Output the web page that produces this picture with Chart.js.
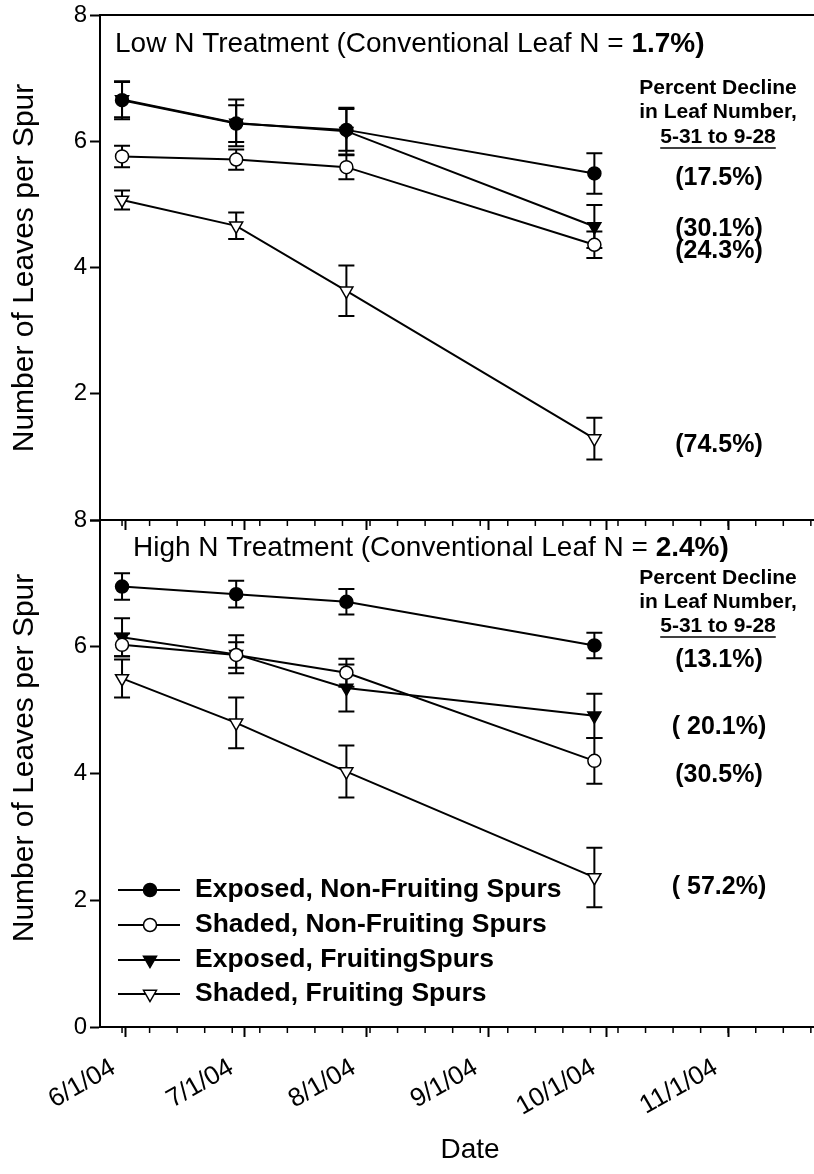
<!DOCTYPE html>
<html lang="en">
<head>
  <meta charset="UTF-8">
  <title>Number of Leaves per Spur</title>
  <script src="https://cdn.jsdelivr.net/npm/chart.js@4"></script>
  <style>
    body { margin: 0; background: #fff; }
    .fig { position: relative; width: 814px; height: 1174px; }
    .fig canvas { position: absolute; left: 0; }
    #lowChart { top: 0; }
    #highChart { top: 510px; }
  </style>
</head>
<body>
  <div class="fig">
    <canvas id="lowChart" width="814" height="530"></canvas>
    <canvas id="highChart" width="814" height="664"></canvas>
  </div>

  <script>
    // sampling dates and axis ticks
    const sampleDates = ['2004-05-31', '2004-06-29', '2004-07-27', '2004-09-28'];
    const tickDates = ['2004-06-01', '2004-07-01', '2004-08-01', '2004-09-01', '2004-10-01', '2004-11-01'];
    const tickLabels = ['6/1/04', '7/1/04', '8/1/04', '9/1/04', '10/1/04', '11/1/04'];
    const seriesNames = ['Exposed, Non-Fruiting Spurs', 'Shaded, Non-Fruiting Spurs', 'Exposed, FruitingSpurs', 'Shaded, Fruiting Spurs'];

    // Low N treatment (mean, +/- error)
    const lowExposedNF = [6.65, 6.28, 6.18, 5.49];
    const lowExposedNFErr = [0.30, 0.29, 0.33, 0.32];
    const lowShadedNF = [5.76, 5.71, 5.59, 4.36];
    const lowShadedNFErr = [0.17, 0.16, 0.19, 0.21];
    const lowExposedF = [6.66, 6.29, 6.16, 4.65];
    const lowExposedFErr = [0.28, 0.37, 0.37, 0.34];
    const lowShadedF = [5.07, 4.66, 3.63, 1.29];
    const lowShadedFErr = [0.15, 0.21, 0.40, 0.33];

    // High N treatment
    const highExposedNF = [6.95, 6.83, 6.71, 6.02];
    const highExposedNFErr = [0.21, 0.21, 0.20, 0.20];
    const highShadedNF = [6.03, 5.87, 5.59, 4.20];
    const highShadedNFErr = [0.18, 0.20, 0.22, 0.36];
    const highExposedF = [6.15, 5.88, 5.35, 4.91];
    const highExposedFErr = [0.30, 0.30, 0.37, 0.35];
    const highShadedF = [5.50, 4.80, 4.03, 2.36];
    const highShadedFErr = [0.30, 0.40, 0.41, 0.47];

    const lowDeclines = ['(17.5%)', '(30.1%)', '(24.3%)', '(74.5%)'];
    const highDeclines = ['(13.1%)', '( 20.1%)', '(30.5%)', '( 57.2%)'];
    const declineHeader = ['Percent Decline', 'in Leaf Number,', '5-31 to 9-28'];
    const yTitle = 'Number of Leaves per Spur';

    const FONT = "'Liberation Sans', Arial, Helvetica, sans-serif";
    const ORIGIN = Date.parse('2004-06-01');
    const dayOf = d => (Date.parse(d) - ORIGIN) / 864e5;

    const styles = [
      { shape: 'circle', rot: 0, r: 6.5, fill: '#000' },
      { shape: 'circle', rot: 0, r: 6.5, fill: '#fff' },
      { shape: 'triangle', rot: 180, r: 7.5, fill: '#000' },
      { shape: 'triangle', rot: 180, r: 7.5, fill: '#fff' }
    ];

    function makeSet(i, values, errors) {
      const s = styles[i];
      return {
        label: seriesNames[i],
        data: values.map((v, j) => ({ x: dayOf(sampleDates[j]), y: v })),
        errors: errors,
        borderColor: '#000',
        borderWidth: 2,
        pointStyle: s.shape,
        pointRotation: s.rot,
        pointRadius: s.r,
        pointBackgroundColor: s.fill,
        pointBorderColor: '#000',
        pointBorderWidth: 1.5,
        tension: 0,
        clip: false
      };
    }

    // vertical error bars with caps, under the markers
    const errorBars = {
      id: 'errorBars',
      beforeDatasetsDraw(chart) {
        const ctx = chart.ctx;
        const yScale = chart.scales.y;
        ctx.save();
        ctx.strokeStyle = '#000';
        ctx.lineWidth = 2;
        chart.data.datasets.forEach((ds, i) => {
          const meta = chart.getDatasetMeta(i);
          ds.errors.forEach((e, j) => {
            const x = meta.data[j].x;
            const v = ds.data[j].y;
            const top = yScale.getPixelForValue(v + e);
            const bot = yScale.getPixelForValue(v - e);
            ctx.beginPath();
            ctx.moveTo(x, top); ctx.lineTo(x, bot);
            ctx.moveTo(x - 8, top); ctx.lineTo(x + 8, top);
            ctx.moveTo(x - 8, bot); ctx.lineTo(x + 8, bot);
            ctx.stroke();
          });
        });
        ctx.restore();
      }
    };

    // weekly minor ticks on the date axis
    const minorTicks = {
      id: 'minorTicks',
      afterDraw(chart) {
        const xs = chart.scales.x;
        const ctx = chart.ctx;
        ctx.save();
        ctx.strokeStyle = '#000';
        ctx.lineWidth = 1.5;
        for (let d = dayOf('2004-05-31'); d < xs.max; d += 7) {
          const px = xs.getPixelForValue(d);
          ctx.beginPath();
          ctx.moveTo(px, xs.top);
          ctx.lineTo(px, xs.top + 6);
          ctx.stroke();
        }
        ctx.restore();
      }
    };

    function panelDecor(cfg) {
      return {
        id: 'panelDecor',
        afterDraw(chart) {
          const ctx = chart.ctx;
          const area = chart.chartArea;
          ctx.save();
          ctx.fillStyle = '#000';
          ctx.strokeStyle = '#000';

          if (cfg.topBorder) {
            ctx.lineWidth = 2;
            ctx.beginPath();
            ctx.moveTo(area.left, area.top);
            ctx.lineTo(area.right, area.top);
            ctx.stroke();
          }

          // panel title, last part in bold
          ctx.textBaseline = 'middle';
          ctx.textAlign = 'left';
          ctx.font = '28px ' + FONT;
          ctx.fillText(cfg.title[0], cfg.titleX, cfg.titleY);
          const w = ctx.measureText(cfg.title[0]).width;
          ctx.font = 'bold 28px ' + FONT;
          ctx.fillText(cfg.title[1], cfg.titleX + w, cfg.titleY);

          // y axis title
          ctx.save();
          ctx.translate(25, cfg.yTitleY);
          ctx.rotate(-Math.PI / 2);
          ctx.textAlign = 'center';
          ctx.font = '30px ' + FONT;
          ctx.fillText(yTitle, 0, 0);
          ctx.restore();

          // percent decline header
          ctx.textAlign = 'center';
          ctx.font = 'bold 21px ' + FONT;
          declineHeader.forEach((line, i) => ctx.fillText(line, 718, cfg.headY[i]));
          const uw = ctx.measureText(declineHeader[2]).width;
          ctx.lineWidth = 1.5;
          ctx.beginPath();
          ctx.moveTo(718 - uw / 2, cfg.headY[2] + 11);
          ctx.lineTo(718 + uw / 2, cfg.headY[2] + 11);
          ctx.stroke();

          ctx.font = 'bold 25px ' + FONT;
          cfg.declines.forEach((t, i) => ctx.fillText(t, 719, cfg.noteY[i]));

          if (cfg.legend) {
            chart.data.datasets.forEach((ds, i) => {
              const y = cfg.legendY[i];
              ctx.lineWidth = 2;
              ctx.beginPath();
              ctx.moveTo(118, y); ctx.lineTo(180, y);
              ctx.stroke();
              ctx.fillStyle = ds.pointBackgroundColor;
              ctx.lineWidth = 1.5;
              Chart.helpers.drawPoint(ctx, {
                pointStyle: ds.pointStyle, rotation: ds.pointRotation,
                radius: ds.pointRadius, borderWidth: 1.5
              }, 150, y);
              ctx.fillStyle = '#000';
              ctx.textAlign = 'left';
              ctx.font = 'bold 26.5px ' + FONT;
              ctx.fillText(ds.label, 195, y);
            });
          }
          ctx.restore();
        }
      };
    }

    function makeOptions(showLabels, padTop, xHeight, hideZero) {
      return {
        responsive: false,
        animation: false,
        events: [],
        layout: { autoPadding: false, padding: { top: padTop, left: 0, right: 0, bottom: 0 } },
        plugins: { legend: { display: false }, tooltip: { enabled: false } },
        scales: {
          x: {
            type: 'linear',
            min: -6.6,
            max: 174.8,
            afterBuildTicks: scale => {
              scale.ticks = tickDates.map(d => ({ value: dayOf(d) }));
            },
            afterFit: scale => {
              scale.height = xHeight;
              scale.paddingLeft = 0;
              scale.paddingRight = 0;
            },
            grid: { drawOnChartArea: false, tickLength: 10, tickColor: '#000', tickWidth: 2 },
            border: { color: '#000', width: 2 },
            ticks: {
              display: showLabels,
              autoSkip: false,
              minRotation: 30,
              maxRotation: 30,
              padding: 8,
              color: '#000',
              font: { family: FONT, size: 26 },
              // trailing spaces pull the rotated label left of its tick
              callback: (v, i) => tickLabels[i] + '  '
            }
          },
          y: {
            min: 0,
            max: 8,
            afterFit: scale => {
              scale.width = 100;
              scale.paddingTop = 0;
              scale.paddingBottom = 0;
            },
            grid: { drawOnChartArea: false, tickLength: 10, tickColor: '#000', tickWidth: 2 },
            border: { color: '#000', width: 2 },
            ticks: {
              stepSize: 2,
              padding: 3,
              color: '#000',
              font: { family: FONT, size: 24 },
              callback: v => (hideZero && v === 0) ? '' : v
            }
          }
        }
      };
    }

    new Chart(document.getElementById('lowChart'), {
      type: 'line',
      data: {
        datasets: [
          makeSet(0, lowExposedNF, lowExposedNFErr),
          makeSet(1, lowShadedNF, lowShadedNFErr),
          makeSet(2, lowExposedF, lowExposedFErr),
          makeSet(3, lowShadedF, lowShadedFErr)
        ]
      },
      options: makeOptions(false, 15, 10, true),
      plugins: [errorBars, minorTicks, panelDecor({
        topBorder: true,
        title: ['Low N Treatment (Conventional Leaf N = ', '1.7%)'],
        titleX: 115, titleY: 44,
        yTitleY: 268,
        headY: [88, 112, 137],
        declines: lowDeclines,
        noteY: [178, 229, 251, 445]
      })]
    });

    new Chart(document.getElementById('highChart'), {
      type: 'line',
      data: {
        datasets: [
          makeSet(0, highExposedNF, highExposedNFErr),
          makeSet(1, highShadedNF, highShadedNFErr),
          makeSet(2, highExposedF, highExposedFErr),
          makeSet(3, highShadedF, highShadedFErr)
        ]
      },
      options: makeOptions(true, 10, 147, false),
      plugins: [errorBars, minorTicks, panelDecor({
        topBorder: false,
        title: ['High N Treatment (Conventional Leaf N = ', '2.4%)'],
        titleX: 133, titleY: 38,
        yTitleY: 248,
        headY: [68, 92, 116],
        declines: highDeclines,
        noteY: [150, 217, 265, 377],
        legend: true,
        legendY: [380, 415, 450, 484]
      }), {
        id: 'dateTitle',
        afterDraw(chart) {
          const ctx = chart.ctx;
          ctx.save();
          ctx.fillStyle = '#000';
          ctx.textAlign = 'center';
          ctx.textBaseline = 'middle';
          ctx.font = '28px ' + FONT;
          ctx.fillText('Date', 470, 640);
          ctx.restore();
        }
      }]
    });
  </script>
</body>
</html>
